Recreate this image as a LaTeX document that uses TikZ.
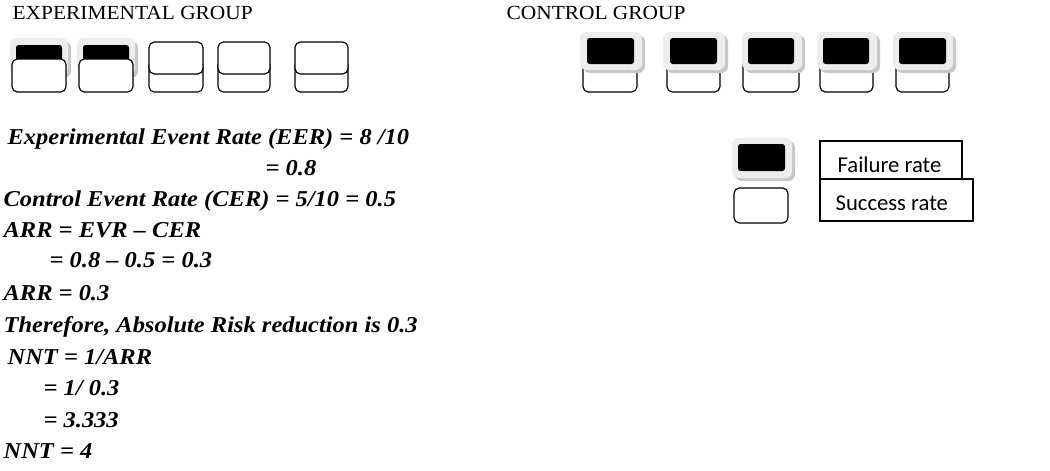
\documentclass[tikz,border=0pt]{standalone}
\usepackage{fontspec}
\setmainfont{Liberation Serif}
\newfontfamily\headfont[FakeStretch=1.07]{Liberation Serif}
\newfontfamily\eqfont[FakeStretch=1.08]{Liberation Serif}
\newfontfamily\legfont{Carlito}
\usepackage{tikz}

\begin{document}
\begin{tikzpicture}[x=0.75pt,y=-0.75pt,line width=0.9pt,
  halo/.style={fill=black!7,rounded corners=5pt},
  shadow/.style={fill=black!22,rounded corners=5pt},
  blk/.style={fill=black,rounded corners=2pt},
  cell/.style={draw,fill=white,rounded corners=4pt},
  hd/.style={anchor=base west,inner sep=0pt,font=\headfont\fontsize{15}{17}\selectfont},
  eq/.style={anchor=base west,inner sep=0pt,font=\eqfont\bfseries\itshape\fontsize{17}{19}\selectfont},
  leg/.style={anchor=base west,inner sep=0pt,font=\legfont\fontsize{17}{19}\selectfont}]
  \useasboundingbox (0,0) rectangle (1050,471);
  % ===================== titulos =====================
  \node[hd] (exptitle) at (12,19) {EXPERIMENTAL GROUP};
  \node[hd] (ctrltitle) at (506,19) {CONTROL GROUP};
  % ===================== grupo experimental =====================
  % fracaso 1
  \fill[shadow] (13,41) rectangle (71,78); \fill[halo] (10,38) rectangle (68,75);
  \fill[blk] (16,45) rectangle (62,62); \draw[cell] (12,59) rectangle (66,92);
  % fracaso 2
  \fill[shadow] (80,41) rectangle (138,78); \fill[halo] (77,38) rectangle (135,75);
  \fill[blk] (83,45) rectangle (129,62); \draw[cell] (79,59) rectangle (133,92);
  % exito 1
  \draw[cell] (149,60) rectangle (203,92); \draw[cell] (149,42) rectangle (203,74);
  % exito 2
  \draw[cell] (218,60) rectangle (270,92); \draw[cell] (218,42) rectangle (270,74);
  % exito 3
  \draw[cell] (295,60) rectangle (348,92); \draw[cell] (295,42) rectangle (348,74);
  % ===================== grupo control =====================
  \draw[cell] (583,56) rectangle (637,92); \fill[shadow] (583,35) rectangle (645,73);
  \fill[halo] (580,32) rectangle (642,70); \fill[blk] (587,38) rectangle (634,64);
  \draw[cell] (667,56) rectangle (720,92); \fill[shadow] (666,35) rectangle (728,73);
  \fill[halo] (663,32) rectangle (725,70); \fill[blk] (670,38) rectangle (717,64);
  \draw[cell] (743,56) rectangle (799,92); \fill[shadow] (745,35) rectangle (805,73);
  \fill[halo] (742,32) rectangle (802,70); \fill[blk] (748,38) rectangle (794,64);
  \draw[cell] (820,56) rectangle (873,92); \fill[shadow] (820,35) rectangle (880,73);
  \fill[halo] (817,32) rectangle (877,70); \fill[blk] (823,38) rectangle (869,64);
  \draw[cell] (896,56) rectangle (949,92); \fill[shadow] (896,35) rectangle (956,73);
  \fill[halo] (893,32) rectangle (953,70); \fill[blk] (899,38) rectangle (946,64);
  % ===================== leyenda =====================
  \fill[shadow] (735,141) rectangle (795,181); \fill[halo] (732,138) rectangle (792,178);
  \fill[blk] (738,144) rectangle (785,171);
  \draw[cell] (734,188) rectangle (788,223);
  \draw (820,141) rectangle (962,179); \node[leg] (failure) at (837,172) {Failure rate};
  \draw (820,179) rectangle (973,221); \node[leg] (success) at (835,210) {Success rate};
  % ===================== calculos =====================
  \node[eq] (eer) at (7,144) {Experimental Event Rate (EER) = 8 /10};
  \node[eq] (eerval) at (265,175) {= 0.8};
  \node[eq] (cer) at (3,206) {Control Event Rate (CER) = 5/10 = 0.5};
  \node[eq] (arr) at (3,237) {ARR = EVR – CER};
  \node[eq] (arrcalc) at (49,267) {= 0.8 – 0.5 = 0.3};
  \node[eq] (arrval) at (3,300) {ARR = 0.3};
  \node[eq] (concl) at (3,332) {Therefore, Absolute Risk reduction is 0.3};
  \node[eq] (nnt) at (7,364) {NNT = 1/ARR};
  \node[eq] (nntcalc) at (43,395) {= 1/ 0.3};
  \node[eq] (nntdec) at (43,427) {= 3.333};
  \node[eq] (nntval) at (3,458) {NNT = 4};
\end{tikzpicture}
\end{document}
